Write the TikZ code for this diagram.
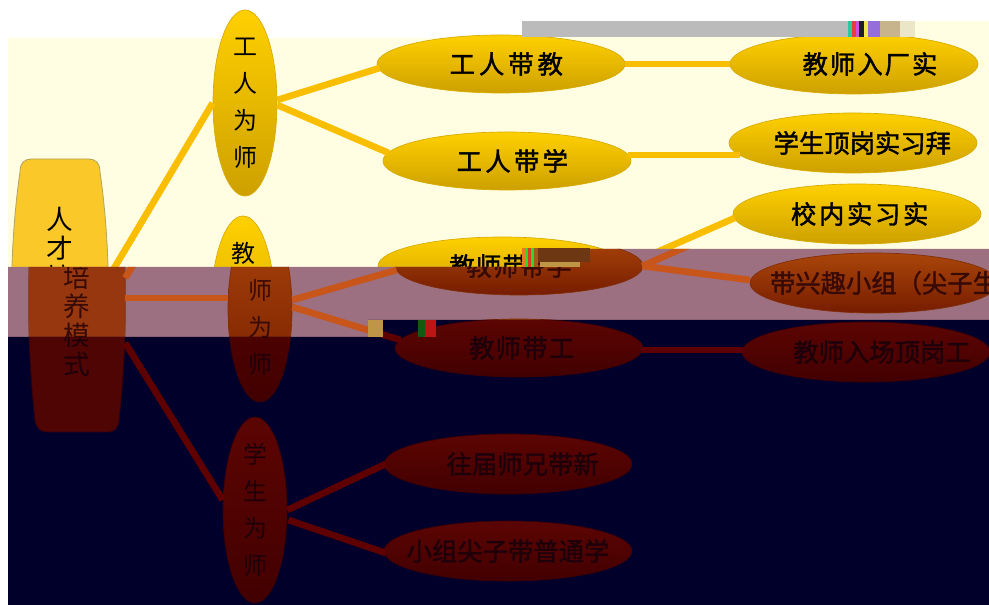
\documentclass[tikz,border=0pt]{standalone}
\usepackage{fontspec}
\newfontfamily\cjk{Noto Sans CJK SC}
\newfontfamily\cjkb[FakeBold=1.6]{Noto Sans CJK SC}
\usetikzlibrary{shapes.geometric,calc}
% palettes
\definecolor{ybg}{RGB}{255,254,226}\definecolor{ytop}{RGB}{255,208,0}\definecolor{ybot}{RGB}{205,160,0}
\definecolor{yedge}{RGB}{215,170,0}\definecolor{yline}{RGB}{250,190,0}\definecolor{ytxt}{RGB}{0,0,0}
\definecolor{ybox}{RGB}{250,200,40}\definecolor{yboxd}{RGB}{175,165,95}
\definecolor{mbg}{RGB}{156,112,128}\definecolor{mtop}{RGB}{170,70,10}\definecolor{mbot}{RGB}{118,28,0}
\definecolor{medge}{RGB}{130,45,5}\definecolor{mline}{RGB}{200,85,25}\definecolor{mtxt}{RGB}{55,10,5}
\definecolor{mbox}{RGB}{150,55,15}\definecolor{mboxd}{RGB}{125,70,50}
\definecolor{nbg}{RGB}{0,0,42}\definecolor{ntop}{RGB}{92,5,3}\definecolor{nbot}{RGB}{66,0,0}
\definecolor{nedge}{RGB}{60,0,5}\definecolor{nline}{RGB}{95,0,0}\definecolor{ntxt}{RGB}{30,0,10}
\definecolor{nbox}{RGB}{78,5,3}\definecolor{nboxd}{RGB}{50,0,15}
\definecolor{barc}{RGB}{187,187,187}
\newcommand\usepal[1]{%
  \colorlet{ctop}{#1top}\colorlet{cbot}{#1bot}\colorlet{cedge}{#1edge}%
  \colorlet{cline}{#1line}\colorlet{ctxt}{#1txt}\colorlet{cbox}{#1box}\colorlet{cboxd}{#1boxd}}
\newcommand\shtxt[2]{\makebox[0pt]{\kern#1\relax#2\kern-#1\relax}}
\newcommand\ph[1]{\phantom{#1}}
% texts (full versions)
\newcommand\Tgdj{工\kern3pt 人\kern3pt 带\kern3pt 教}
\newcommand\Tgdx{工\kern2.5pt 人\kern2.5pt 带\kern2.5pt 学}
\newcommand\Tjdx{教\kern1pt 师\kern1pt 带\kern1pt 学}
\newcommand\Tjdg{教\kern1pt 师\kern1pt 带\kern1pt 工}
\newcommand\Txwx{往届师兄带新}
\newcommand\Txzj{小组尖子带普通学}
\newcommand\Tjrc{教\kern1.5pt 师\kern1.5pt 入\kern1.5pt 厂\kern1.5pt 实}
\newcommand\Txdg{学生顶岗实习拜}
\newcommand\Txn{校\kern2pt 内\kern2pt 实\kern2pt 习\kern2pt 实}
\newcommand\Txq{带兴趣小组（尖子生}
\newcommand\Tjrd{教师入场顶岗工}
\newcommand\Tgw{工\\人\\为\\师}
\newcommand\Txw{学\\生\\为\\师}
\newcommand\clearall{\def\tgdj{}\def\tgdx{}\def\tjdx{}\def\tjdg{}\def\txwx{}\def\txzj{}%
  \def\tjrc{}\def\txdg{}\def\txn{}\def\txq{}\def\tjrd{}\def\tgw{}\def\txw{}}
\tikzset{
  rootsty/.style={rectangle, minimum width=72pt, minimum height=204.75pt, inner sep=0pt,
    align=center, text=ctxt, font=\cjk\fontsize{20}{21.75}\selectfont},
  lvlA/.style={ellipse, minimum width=48pt, minimum height=139.5pt, inner sep=-10pt,
    top color=ctop, bottom color=cbot, draw=cedge, line width=0.5pt,
    align=center, text=ctxt, font=\cjk\fontsize{18}{27.75}\selectfont},
  lvlB/.style={ellipse, minimum width=186pt, minimum height=43.5pt, inner sep=0pt,
    top color=ctop, bottom color=cbot, draw=cedge, line width=0.5pt,
    text=ctxt, font=\cjkb\fontsize{19}{20}\selectfont},
  lvlC/.style={lvlB, minimum height=45pt},
  conn/.style={draw=cline, line width=5pt},
}
\newcommand\mydiagram{%
  \filldraw[fill=cbox, draw=cboxd, line width=0.6pt]
    (20,172) .. controls (20,163) and (24,159) .. (32,159) -- (88,159)
    .. controls (96,159) and (100,163) .. (100,172)
    .. controls (110,240) and (112,330) .. (102,420)
    .. controls (101,428) and (98,432) .. (90,432) -- (31,432)
    .. controls (23,432) and (19,428) .. (18,420)
    .. controls (8,330) and (10,240) .. (20,172) -- cycle;
  \node[rootsty] (root) at (60,292) {\troot};
  \node[lvlA] (gw) at (245,103) {\tgw};
  \node[lvlA] (jw) at (243,309) {\tjw};
  \node[lvlA] (xw) at (238,510) {\txw};
  \node[lvlB] (gdj) at (501,64) {\shtxt{4pt}{\tgdj}};
  \node[lvlB] (gdx) at (507,161) {\shtxt{4pt}{\tgdx}};
  \node[lvlB] (jdx) at (502,266) {\shtxt{0pt}{\tjdx}};
  \node[lvlB] (jdg) at (502,348) {\shtxt{2pt}{\tjdg}};
  \node[lvlC] (xwx) at (491,464) {\shtxt{11pt}{\txwx}};
  \node[lvlC] (xzj) at (491,551) {\shtxt{0pt}{\txzj}};
  \node[lvlC] (jrc) at (854,64) {\shtxt{12pt}{\tjrc}};
  \node[lvlC] (xdg) at (853,143) {\shtxt{7pt}{\txdg}};
  \node[lvlC] (xn) at (857,214) {\shtxt{2pt}{\txn}};
  \node[lvlC] (xq) at (857,283) {\makebox[0pt][l]{\kern-78pt \txq}};
  \node[lvlC] (jrd) at (849,352) {\shtxt{12pt}{\tjrd}};
  % connectors
  \draw[conn] ($(root.east)+(0,-14)$) -- (gw.west);
  \draw[conn] ($(root.east)+(0,6)$) -- ($(jw.west)+(0,-11)$);
  \draw[conn] ($(root.east)+(0,51)$) -- ($(xw.west)+(0,-10)$);
  \draw[conn] ($(gw.east)+(0,-3)$) -- ($(gdj.west)+(3,4)$);
  \draw[conn] ($(gw.east)+(0,2)$) -- ($(gdx.west)+(6,-8)$);
  \draw[conn] ($(jw.east)+(0,-9)$) -- ($(jdx.west)+(2,4)$);
  \draw[conn] ($(jw.east)+(0,-2)$) -- ($(jdg.west)+(6,-8)$);
  \draw[conn] (xw.east) -- ($(xwx.west)+(2,0)$);
  \draw[conn] ($(xw.east)+(1,10)$) -- ($(xzj.west)+(2,2)$);
  \draw[conn] (gdj.east) -- (jrc.west);
  \draw[conn] ($(gdx.east)+(-3,-6)$) -- ($(xdg.west)+(11,12)$);
  \draw[conn] ($(jdx.east)+(-1,0)$) -- ($(xn.west)+(2,4)$);
  \draw[conn] ($(jdx.east)+(-1,0)$) -- ($(xq.west)+(0,-3)$);
  \draw[conn] ($(jdg.east)+(-1,2)$) -- ($(jrd.west)+(1,-2)$);
}
\begin{document}
\begin{tikzpicture}[x=0.75pt,y=-0.75pt]
\useasboundingbox (0,0) rectangle (989,605);
\fill[white] (0,0) rectangle (989,605);
% clean upper part
\begin{scope}
  \clip (0,0) -- (989,0) -- (989,249) -- (523,249) -- (523,267) -- (8,267) -- (8,0) -- cycle;
  \fill[ybg] (8,38) -- (522,38) -- (522,21) -- (989,21) -- (989,267) -- (8,267) -- cycle;
  \usepal{y}\clearall
  \def\troot{人\\才\\培\\\ph{养}\\\ph{模}\\\ph{式}}%
  \def\tjw{教\\\ph{师}\\\ph{为}\\\ph{师}}%
  \let\tgw\Tgw \let\tgdj\Tgdj \let\tgdx\Tgdx \let\tjdx\Tjdx
  \let\tjrc\Tjrc \let\txdg\Txdg \let\txn\Txn
  \mydiagram
\end{scope}
% mauve band
\begin{scope}
  \clip (8,267) -- (523,267) -- (523,249) -- (989,249) -- (989,320) -- (368,320) -- (368,337) -- (8,337) -- cycle;
  \fill[mbg] (0,240) rectangle (989,340);
  \begin{scope}[shift={(17,0)}]
    \usepal{m}\clearall
    \def\troot{\ph{人}\\\ph{才}\\培\\养\\模\\\ph{式}}%
    \def\tjw{\ph{教}\\师\\为\\\ph{师}}%
    \let\tjdx\Tjdx \let\txq\Txq
    \mydiagram
  \end{scope}
\end{scope}
% navy band
\begin{scope}
  \clip (8,337) -- (368,337) -- (368,320) -- (989,320) -- (989,605) -- (8,605) -- cycle;
  \fill[nbg] (0,310) rectangle (989,605);
  \begin{scope}[shift={(17,0)}]
    \usepal{n}\clearall
    \def\troot{\ph{人}\\\ph{才}\\\ph{培}\\\ph{养}\\模\\式}%
    \def\tjw{\ph{教}\\\ph{师}\\为\\师}%
    \let\txw\Txw \let\tjdg\Tjdg \let\txwx\Txwx \let\txzj\Txzj \let\tjrd\Tjrd
    \mydiagram
  \end{scope}
\end{scope}
% damaged blocks
\fill[barc] (522,21) rectangle (848,37);
\fill[fill={rgb,255:red,40;green,200;blue,160}] (848,21) rectangle (852,37);
\fill[fill={rgb,255:red,230;green,60;blue,60}] (852,21) rectangle (856,37);
\fill[fill={rgb,255:red,200;green,80;blue,220}] (856,21) rectangle (859,37);
\fill[fill={rgb,255:red,30;green,30;blue,40}] (859,21) rectangle (864,37);
\fill[fill={rgb,255:red,240;green,230;blue,80}] (864,21) rectangle (868,37);
\fill[fill={rgb,255:red,150;green,110;blue,220}] (868,21) rectangle (880,37);
\fill[fill={rgb,255:red,200;green,180;blue,140}] (880,21) rectangle (900,37);
\fill[fill={rgb,255:red,235;green,230;blue,200}] (900,21) rectangle (915,37);
\fill[fill={rgb,255:red,230;green,120;blue,40}] (522,248) rectangle (525,267);
\fill[fill={rgb,255:red,40;green,220;blue,40}] (525,248) rectangle (528,267);
\fill[fill={rgb,255:red,220;green,60;blue,30}] (528,248) rectangle (531,267);
\fill[fill={rgb,255:red,40;green,220;blue,40}] (531,248) rectangle (534,267);
\fill[fill={rgb,255:red,160;green,90;blue,30}] (534,248) rectangle (538,267);
\fill[fill={rgb,255:red,110;green,55;blue,20}] (538,248) rectangle (590,262);
\fill[fill={rgb,255:red,190;green,150;blue,70}] (540,262) rectangle (580,267);
\fill[fill={rgb,255:red,190;green,150;blue,70}] (368,320) rectangle (383,337);
\fill[fill={rgb,255:red,20;green,90;blue,20}] (418,320) rectangle (425,337);
\fill[fill={rgb,255:red,190;green,20;blue,20}] (425,320) rectangle (436,337);
\end{tikzpicture}
\end{document}
